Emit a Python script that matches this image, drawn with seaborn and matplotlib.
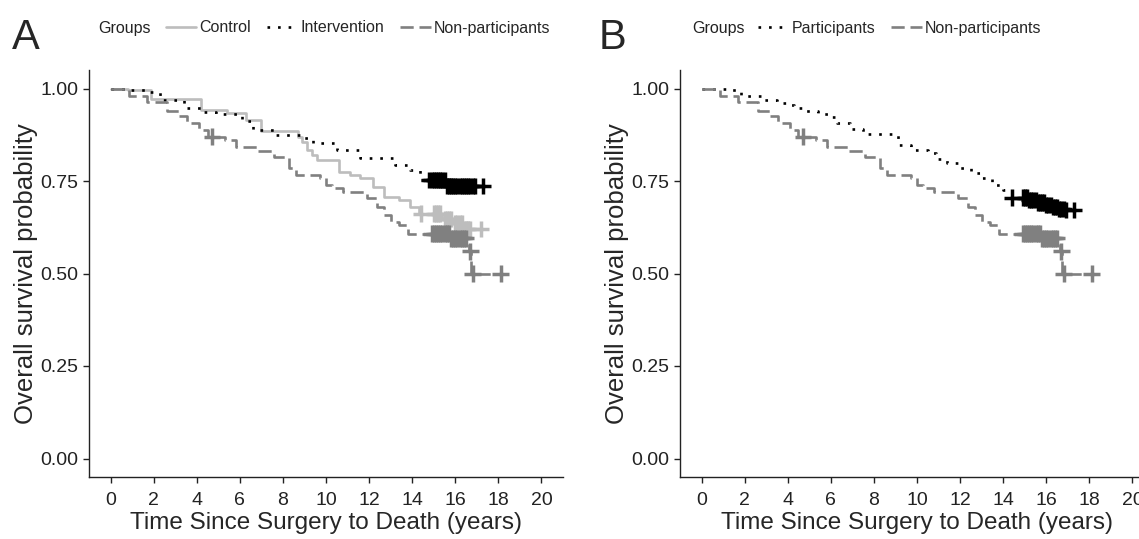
import numpy as np
import pandas as pd
import matplotlib
matplotlib.use("Agg")
import matplotlib.pyplot as plt
import seaborn as sns

# ------------------------------------------
# DATA
# ------------------------------------------
# Panel A - Control (step curve)
ctrl_t = [0, 0.8, 1.9, 4.2, 5.4, 6.3, 7.0, 8.7, 8.9, 9.1, 9.35, 9.6, 10.6, 11.1, 11.6,
          12.2, 12.7, 13.4, 13.9, 14.3, 15.4, 15.9, 16.4, 17.2]
ctrl_s = [1.0, 0.995, 0.972, 0.943, 0.934, 0.916, 0.884, 0.87, 0.856, 0.834, 0.82, 0.807,
          0.775, 0.765, 0.757, 0.735, 0.707, 0.698, 0.68, 0.662, 0.648, 0.636, 0.62, 0.62]
ctrl_cens_t = [14.4, 15.0, 15.1, 15.2, 15.3, 15.5, 15.6, 15.7, 15.8, 16.0, 16.1, 16.2,
               16.3, 16.5, 16.6, 16.7, 17.2]
ctrl_cens_s = [0.662, 0.662, 0.662, 0.662, 0.662, 0.648, 0.648, 0.648, 0.648, 0.636,
               0.636, 0.636, 0.636, 0.62, 0.62, 0.62, 0.62]

# Panel A - Intervention
int_t = [0, 0.9, 1.4, 1.75, 2.3, 3.4, 4.2, 4.9, 6.1, 6.6, 7.7, 8.9, 9.4, 10.5, 11.6,
         13.2, 13.9, 14.35, 15.6, 17.3]
int_s = [1.0, 0.997, 0.995, 0.99, 0.97, 0.946, 0.937, 0.93, 0.911, 0.887, 0.875, 0.867,
         0.854, 0.834, 0.812, 0.793, 0.78, 0.753, 0.737, 0.737]
int_cens_t = [14.8, 14.9, 15.0, 15.1, 15.2, 15.3, 15.4, 15.5, 15.6, 15.7, 15.8, 15.9,
              16.0, 16.1, 16.2, 16.3, 16.4, 16.5, 16.6, 16.7, 16.8, 16.9, 17.3]
int_cens_s = [0.753, 0.753, 0.753, 0.753, 0.753, 0.753, 0.753, 0.753, 0.737, 0.737,
              0.737, 0.737, 0.737, 0.737, 0.737, 0.737, 0.737, 0.737, 0.737, 0.737,
              0.737, 0.737, 0.737]

# Non-participants (same curve in A and B)
np_t = [0, 0.85, 1.7, 2.6, 3.2, 3.55, 4.1, 4.5, 5.3, 5.8, 6.8, 7.6, 8.3, 8.6, 9.7, 10.0,
        10.3, 10.8, 11.9, 12.35, 12.7, 13.0, 13.4, 13.8, 15.8, 16.65, 16.75, 18.1]
np_s = [1.0, 0.981, 0.963, 0.94, 0.925, 0.908, 0.889, 0.87, 0.861, 0.843, 0.83, 0.815,
        0.785, 0.766, 0.757, 0.739, 0.73, 0.72, 0.704, 0.68, 0.657, 0.64, 0.63, 0.608,
        0.595, 0.56, 0.5, 0.5]
np_cens_t = [4.7, 14.9, 15.0, 15.1, 15.2, 15.3, 15.4, 15.5, 15.6, 15.7, 15.8, 15.9, 16.0,
             16.1, 16.2, 16.3, 16.4, 16.5, 16.7, 16.8, 18.1]
np_cens_s = [0.87, 0.608, 0.608, 0.608, 0.608, 0.608, 0.608, 0.608, 0.608, 0.608, 0.595,
             0.595, 0.595, 0.595, 0.595, 0.595, 0.595, 0.595, 0.56, 0.5, 0.5]

# Panel B - Participants
par_t = [0, 1.4, 1.85, 2.8, 3.5, 4.0, 4.3, 4.8, 5.4, 5.9, 6.3, 6.9, 7.5, 9.1, 9.7, 10.5,
         10.9, 11.4, 12.0, 12.5, 13.0, 13.5, 14.0, 14.4, 15.2, 15.6, 16.0, 16.3, 16.6,
         16.9, 17.3]
par_s = [1.0, 0.997, 0.98, 0.97, 0.96, 0.955, 0.947, 0.94, 0.93, 0.922, 0.908, 0.89,
         0.876, 0.847, 0.834, 0.825, 0.81, 0.80, 0.785, 0.772, 0.758, 0.74, 0.726, 0.705,
         0.698, 0.692, 0.685, 0.68, 0.675, 0.672, 0.672]
par_cens_t = [14.4, 14.9, 15.0, 15.1, 15.2, 15.3, 15.4, 15.5, 15.6, 15.7, 15.8, 15.9,
              16.0, 16.1, 16.2, 16.3, 16.4, 16.5, 16.6, 16.7, 16.8, 16.9, 17.3]
par_cens_s = [0.705, 0.705, 0.705, 0.705, 0.698, 0.698, 0.698, 0.698, 0.692, 0.692,
              0.692, 0.692, 0.685, 0.685, 0.685, 0.68, 0.68, 0.68, 0.675, 0.675, 0.675,
              0.672, 0.672]

x_ticks = [0, 2, 4, 6, 8, 10, 12, 14, 16, 18, 20]
y_ticks = [0.0, 0.25, 0.5, 0.75, 1.0]

colors = {"Control": "#bdbdbd", "Intervention": "black", "Participants": "black",
          "Non-participants": "#808080"}
dash_map = {"Control": "", "Intervention": (1, 3), "Participants": (1, 3),
            "Non-participants": (5, 2.2)}

# ------------------------------------------
# STYLE
# ------------------------------------------
sns.set_style("ticks")
plt.rcParams["font.family"] = ["Liberation Sans", "DejaVu Sans"]
plt.rcParams["axes.linewidth"] = 1.0

fig = plt.figure(figsize=(11.39, 5.39), dpi=100)
W, H = 1139, 539
axA = fig.add_axes([89 / W, 1 - 477 / H, 474 / W, 407 / H])
axB = fig.add_axes([680 / W, 1 - 477 / H, 474 / W, 407 / H])


def draw_panel(ax, groups):
    curves = pd.concat([pd.DataFrame({"time": t, "surv": s, "group": g})
                        for g, t, s, _, _ in groups], ignore_index=True)
    cens = pd.concat([pd.DataFrame({"time": ct, "surv": cs, "group": g})
                      for g, _, _, ct, cs in groups], ignore_index=True)
    names = [g[0] for g in groups]
    pal = {n: colors[n] for n in names}
    dsh = {n: dash_map[n] for n in names}

    sns.lineplot(data=curves, x="time", y="surv", hue="group", style="group",
                 hue_order=names, style_order=names, palette=pal, dashes=dsh,
                 estimator=None, sort=False, drawstyle="steps-post",
                 linewidth=1.9, ax=ax)
    sns.scatterplot(data=cens, x="time", y="surv", hue="group", hue_order=names,
                    palette=pal, marker="+", s=140, linewidth=2.5, legend=False,
                    zorder=3, ax=ax)

    ax.set_xlim(-1, 21)
    ax.set_ylim(-0.05, 1.05)
    ax.set_xticks(x_ticks)
    ax.set_yticks(y_ticks)
    ax.set_yticklabels([f"{v:.2f}" for v in y_ticks])
    ax.set_xlabel("Time Since Surgery to Death (years)", fontsize=17.5, labelpad=2)
    ax.set_ylabel("Overall survival probability", fontsize=18.5, labelpad=2)
    ax.tick_params(labelsize=14, length=4, width=1, colors="#222222",
                   labelcolor="#222222")
    ax.tick_params(axis="x", pad=7)
    sns.despine(ax=ax)
    for sp in ["left", "bottom"]:
        ax.spines[sp].set_color("#222222")


draw_panel(axA, [("Control", ctrl_t, ctrl_s, ctrl_cens_t, ctrl_cens_s),
                 ("Intervention", int_t, int_s, int_cens_t, int_cens_s),
                 ("Non-participants", np_t, np_s, np_cens_t, np_cens_s)])
draw_panel(axB, [("Participants", par_t, par_s, par_cens_t, par_cens_s),
                 ("Non-participants", np_t, np_s, np_cens_t, np_cens_s)])

# legends on top, horizontal, title to the left
for ax, x_title, x_leg in [(axA, 98, 166), (axB, 692, 758)]:
    sns.move_legend(ax, "center left", bbox_to_anchor=(x_leg / W, 1 - 28 / H),
                    bbox_transform=fig.transFigure, ncol=3, title=None, frameon=False,
                    fontsize=11.5, handlelength=1.9, handletextpad=0.2,
                    columnspacing=1.0, borderaxespad=0, borderpad=0)
    fig.text(x_title / W, 1 - 28 / H, "Groups", fontsize=11.5, va="center",
             ha="left", color="#222222")

fig.text(12 / W, 1 - 38 / H, "A", fontsize=30, va="center", ha="left")
fig.text(599 / W, 1 - 38 / H, "B", fontsize=30, va="center", ha="left")

fig.savefig("out.png", dpi=100)
